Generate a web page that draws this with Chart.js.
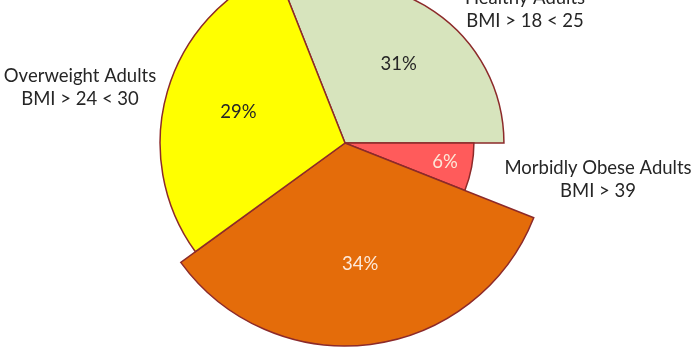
<!DOCTYPE html>
<html>
<head>
<meta charset="utf-8">
<script src="https://cdn.jsdelivr.net/npm/chart.js@4.4.1/dist/chart.umd.min.js"></script>
<style>
    html, body { margin: 0; padding: 0; background: #ffffff; }
    #wrap { position: relative; width: 700px; height: 350px; overflow: hidden; }
</style>
</head>
<body>
<div id="wrap"><canvas id="bmichart"></canvas></div>
<script>
"use strict";

/* adult BMI groups, share of population in % */
var categories = ['Healthy Adults', 'Morbidly Obese Adults', 'Obese Adults', 'Overweight Adults'];
var bmiRanges = ['BMI > 18 < 25', 'BMI > 39', '', 'BMI > 24 < 30'];
var shares = [31, 6, 34, 29];

/* look of each slice */
var sliceColors = ['#d7e4bd', '#ff5b5b', '#e46c0a', '#ffff00'];
var pctColors = ['#262626', '#fde9d9', '#fde9d9', '#262626'];
var sliceScale = [0.783, 0.635, 1, 0.911];   // relative outer radius
var pctDepth = [0.6, 0.79, 0.6, 0.6];        // where the % sits along the radius
/* category label anchors, relative to the pie centre (null = not shown) */
var nameOffset = [[180, -145], [253, 25], null, [-265, -67]];

document.addEventListener("DOMContentLoaded", function () {
    var ctx = document.getElementById('bmichart').getContext('2d');

    /* each slice gets its own outer radius */
    var sliceRadius = {
        id: 'sliceRadius',
        afterDatasetsUpdate: function (chart) {
            var meta = chart.getDatasetMeta(0);
            var base = chart.options.baseRadius;
            meta.data.forEach(function (arc, i) {
                arc.outerRadius = base * sliceScale[i];
            });
        }
    };

    /* % inside, category name outside */
    var sliceLabels = {
        id: 'sliceLabels',
        afterDatasetsDraw: function (chart) {
            var c = chart.ctx;
            var meta = chart.getDatasetMeta(0);
            c.save();
            c.textAlign = 'center';
            c.textBaseline = 'middle';
            c.font = '18.5px Lato, "Open Sans", sans-serif';
            meta.data.forEach(function (arc, i) {
                var mid = (arc.startAngle + arc.endAngle) / 2;
                var r = arc.outerRadius * pctDepth[i];
                c.fillStyle = pctColors[i];
                c.fillText(shares[i] + '%', arc.x + Math.cos(mid) * r, arc.y + Math.sin(mid) * r);

                var off = nameOffset[i];
                if (!off) return;
                c.fillStyle = '#262626';
                c.fillText(categories[i], arc.x + off[0], arc.y + off[1]);
                c.fillText(bmiRanges[i], arc.x + off[0], arc.y + off[1] + 23);
            });
            c.restore();
        }
    };

    var bmiChart = new Chart(ctx, {
        type: 'pie',
        data: {
            labels: categories,
            datasets: [{
                data: shares,
                backgroundColor: sliceColors,
                borderColor: '#8c2a2a',
                borderWidth: 1.5,
                borderJoinStyle: 'miter',
                radius: 203,
                clip: false
            }]
        },
        options: {
            baseRadius: 203,
            animation: false,
            responsive: true,
            maintainAspectRatio: false,
            rotation: -21.6,
            layout: {
                padding: { left: 0, right: 10, top: 0, bottom: 64 }
            },
            plugins: {
                legend: { display: false },
                tooltip: { enabled: false }
            }
        },
        plugins: [sliceRadius, sliceLabels]
    });
});
</script>
</body>
</html>
